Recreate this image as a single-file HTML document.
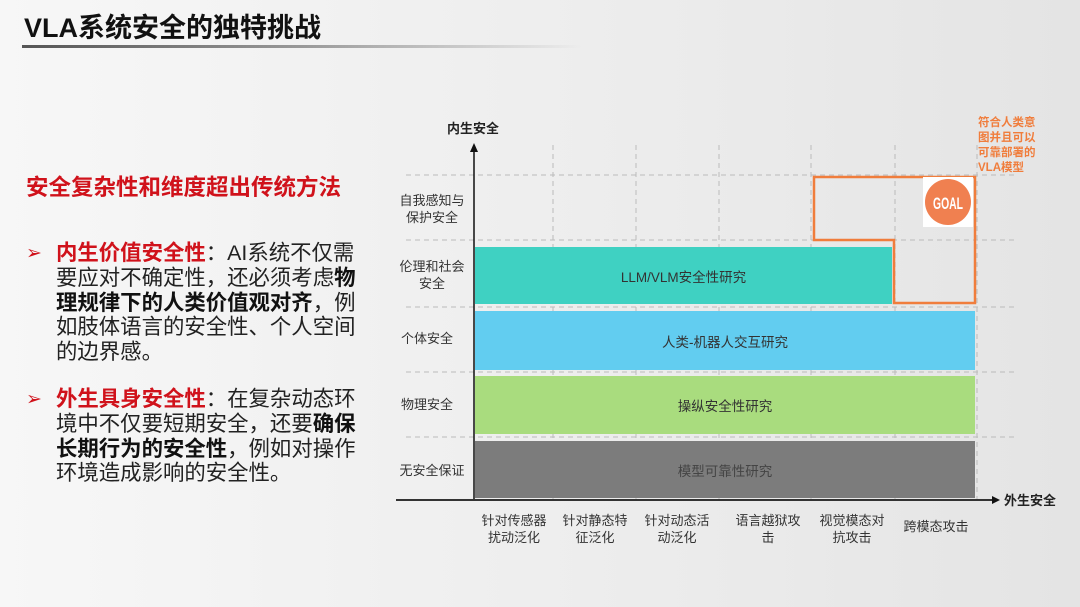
<!DOCTYPE html>
<html><head><meta charset="utf-8"><style>
*{margin:0;padding:0;box-sizing:border-box}
body{width:1080px;height:607px;overflow:hidden;background:linear-gradient(90deg,#f7f7f7,#ececec 60%,#e4e4e4);font-family:"Liberation Sans","Noto Sans CJK SC",sans-serif;position:relative}
.a{position:absolute;white-space:nowrap}
.t{left:24px;top:6px;font-size:27px;font-weight:bold;color:#111}
.ul{left:22px;top:45px;width:560px;height:3px;background:linear-gradient(90deg,#555,#999 50%,rgba(200,200,200,0))}
.h{left:26px;top:170px;font-size:22.5px;font-weight:bold;color:#d0121b}
.p{left:26px;font-size:21.4px;line-height:24.8px;color:#222}
.p b{font-weight:bold;color:#111}
.p .r{color:#d0121b;font-weight:bold}
.arr{color:#d0121b;font-size:19px;position:absolute;left:0;font-family:"DejaVu Sans",sans-serif}
.lab{font-size:13px;color:#333;text-align:center;line-height:17px}
.bar{position:absolute;display:flex;align-items:center;justify-content:center;font-size:13.5px;color:#333}
</style></head><body>
<div class="a t">VLA系统安全的独特挑战</div>
<div class="a ul"></div>
<div class="a h">安全复杂性和维度超出传统方法</div>
<div class="a p" style="top:241px"><span class="arr">➢</span><div style="padding-left:30px"><span class="r">内生价值安全性</span>：AI系统不仅需<br>要应对不确定性，还必须考虑<b>物</b><br><b>理规律下的人类价值观对齐</b>，例<br>如肢体语言的安全性、个人空间<br>的边界感。</div></div>
<div class="a p" style="top:387px"><span class="arr">➢</span><div style="padding-left:30px"><span class="r">外生具身安全性</span>：在复杂动态环<br>境中不仅要短期安全，还要<b>确保</b><br><b>长期行为的安全性</b>，例如对操作<br>环境造成影响的安全性。</div></div>

<svg class="a" style="left:0;top:0" width="1080" height="607">
<g stroke="#bbb" stroke-dasharray="5,4" stroke-width="1" fill="none">
<line x1="553" y1="145" x2="553" y2="500"/><line x1="636" y1="145" x2="636" y2="500"/><line x1="719" y1="145" x2="719" y2="500"/><line x1="811" y1="145" x2="811" y2="500"/><line x1="895" y1="145" x2="895" y2="500"/><line x1="977" y1="145" x2="977" y2="500"/>
<line x1="406" y1="175" x2="1015" y2="175"/><line x1="406" y1="240" x2="1015" y2="240"/><line x1="406" y1="307" x2="1015" y2="307"/><line x1="406" y1="372" x2="1015" y2="372"/><line x1="406" y1="437" x2="1015" y2="437"/>
</g>
<rect x="475" y="247" width="417" height="57" fill="#3fd1c2"/>
<rect x="475" y="311" width="500" height="59" fill="#62cdf0"/>
<rect x="475" y="376" width="500" height="58" fill="#a9dc7e"/>
<rect x="475" y="441" width="500" height="57" fill="#7c7c7c"/>
<path d="M814 177 H975 V303 H894 V240 H814 Z" fill="none" stroke="#f07d3c" stroke-width="2.5"/>
<rect x="923" y="177" width="50" height="50" fill="#fff"/>
<circle cx="948" cy="202" r="23" fill="#f08050"/>
<text x="948" y="209" font-size="17" font-weight="bold" fill="#fff" text-anchor="middle" font-family="Liberation Sans Narrow,Liberation Sans,sans-serif" textLength="30" lengthAdjust="spacingAndGlyphs">GOAL</text>
<line x1="474" y1="500" x2="474" y2="150" stroke="#111" stroke-width="1.5"/>
<path d="M474 143 L470 152 L478 152 Z" fill="#111"/>
<line x1="396" y1="500" x2="994" y2="500" stroke="#333" stroke-width="2"/>
<path d="M1000 500 L992 496 L992 504 Z" fill="#111"/>
</svg>
<div class="bar" style="left:475px;top:247px;width:417px;height:57px">LLM/VLM安全性研究</div>
<div class="bar" style="left:475px;top:311px;width:500px;height:59px">人类-机器人交互研究</div>
<div class="bar" style="left:475px;top:376px;width:500px;height:58px">操纵安全性研究</div>
<div class="bar" style="left:475px;top:441px;width:500px;height:57px;color:#444">模型可靠性研究</div>
<div class="a" style="left:447px;top:118px;font-size:13px;font-weight:bold;color:#222">内生安全</div>
<div class="a" style="left:1004px;top:490px;font-size:13px;font-weight:bold;color:#222">外生安全</div>
<div class="a" style="left:978px;top:116px;font-size:11.5px;font-weight:bold;color:#f07d3c;line-height:15px">符合人类意<br>图并且可以<br>可靠部署的<br>VLA模型</div>
<div class="a lab" style="left:392px;top:192px;width:80px">自我感知与<br>保护安全</div>
<div class="a lab" style="left:392px;top:258px;width:80px">伦理和社会<br>安全</div>
<div class="a lab" style="left:392px;top:330px;width:70px">个体安全</div>
<div class="a lab" style="left:392px;top:396px;width:70px">物理安全</div>
<div class="a lab" style="left:392px;top:462px;width:80px">无安全保证</div>
<div class="a lab" style="left:474px;top:512px;width:80px">针对传感器<br>扰动泛化</div>
<div class="a lab" style="left:555px;top:512px;width:80px">针对静态特<br>征泛化</div>
<div class="a lab" style="left:637px;top:512px;width:80px">针对动态活<br>动泛化</div>
<div class="a lab" style="left:728px;top:512px;width:80px">语言越狱攻<br>击</div>
<div class="a lab" style="left:812px;top:512px;width:80px">视觉模态对<br>抗攻击</div>
<div class="a lab" style="left:896px;top:518px;width:80px">跨模态攻击</div>
</body></html>
